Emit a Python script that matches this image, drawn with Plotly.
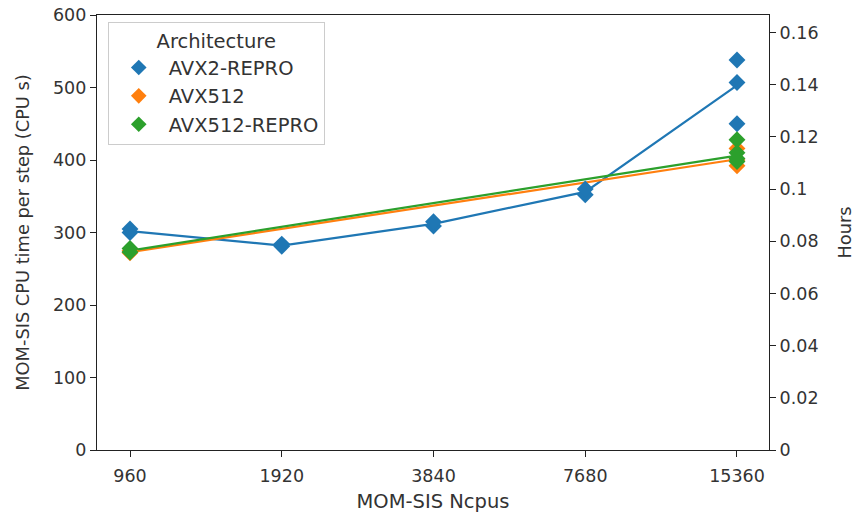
import plotly.graph_objects as go

ncpus = [960, 1920, 3840, 7680, 15360]
tick_labels = ["960", "1920", "3840", "7680", "15360"]

# individual samples (CPU s per step)
avx2_x = [960, 960, 1920, 1920, 3840, 3840, 7680, 7680, 15360, 15360, 15360]
avx2_y = [300, 305, 281, 284, 309, 315, 352, 360, 538, 507, 450]
avx512_x = [960, 960, 15360, 15360, 15360]
avx512_y = [272, 275, 416, 400, 392]
avx512r_x = [960, 960, 15360, 15360, 15360, 15360]
avx512r_y = [273, 278, 428, 410, 402, 398]

# mean lines
avx2_line_x = [960, 1920, 3840, 7680, 15360]
avx2_line_y = [302, 282, 312, 356, 503]
avx512_line_x = [960, 15360]
avx512_line_y = [273, 401]
avx512r_line_x = [960, 15360]
avx512r_line_y = [275, 406]

hours_ticks = [0, 0.02, 0.04, 0.06, 0.08, 0.1, 0.12, 0.14, 0.16]
hours_labels = ["0", "0.02", "0.04", "0.06", "0.08", "0.1", "0.12", "0.14", "0.16"]

colors = ["#1f77b4", "#ff7f0e", "#2ca02c"]
names = ["AVX2-REPRO", "AVX512", "AVX512-REPRO"]

TFS = 17.5   # tick labels
FS = 19.5    # x title / legend
YFS = 17.8   # y titles

fig = go.Figure()
for lx, ly, c in [(avx2_line_x, avx2_line_y, colors[0]),
                  (avx512_line_x, avx512_line_y, colors[1]),
                  (avx512r_line_x, avx512r_line_y, colors[2])]:
    fig.add_trace(go.Scatter(x=lx, y=ly, mode="lines", line=dict(color=c, width=2.2),
                             showlegend=False, hoverinfo="skip"))
for px, py, c, n in [(avx2_x, avx2_y, colors[0], names[0]),
                     (avx512_x, avx512_y, colors[1], names[1]),
                     (avx512r_x, avx512r_y, colors[2], names[2])]:
    fig.add_trace(go.Scatter(x=px, y=py, mode="markers", name=n,
                             marker=dict(symbol="diamond", size=13, color=c)))

# invisible trace for right axis
fig.add_trace(go.Scatter(x=[960], y=[0], yaxis="y2", mode="markers",
                         marker=dict(opacity=0), showlegend=False, hoverinfo="skip"))

axis_common = dict(showline=True, linecolor="#222", linewidth=1.2, ticks="outside",
                   ticklen=6, tickcolor="#222", showgrid=False, zeroline=False,
                   automargin=False, tickfont=dict(size=TFS, color="#333"))

fig.update_layout(
    width=860, height=513,
    margin=dict(l=97, r=91, t=15, b=63),
    plot_bgcolor="white", paper_bgcolor="white",
    font=dict(family="DejaVu Sans", size=FS, color="#333"),
    xaxis=dict(type="log", range=[2.9168, 4.2499], tickvals=ncpus, ticktext=tick_labels,
               title=dict(text="MOM-SIS Ncpus", standoff=13, font=dict(size=FS)),
               ticklabelstandoff=4, mirror=True, **axis_common),
    yaxis=dict(range=[0, 600], tickvals=[0, 100, 200, 300, 400, 500, 600],
               title=dict(text="MOM-SIS CPU time per step (CPU s)", standoff=18, font=dict(size=YFS)),
               **axis_common),
    yaxis2=dict(range=[0, 600 / 3600], overlaying="y", side="right",
                tickvals=hours_ticks, ticktext=hours_labels,
                title=dict(text="Hours", standoff=20, font=dict(size=YFS)),
                **axis_common),
    legend=dict(x=0.016, y=0.984, xanchor="left", yanchor="top",
                bordercolor="#cccccc", borderwidth=1, bgcolor="rgba(255,255,255,0.8)",
                title=dict(text="Architecture", side="top center", font=dict(size=FS)),
                font=dict(size=FS), itemsizing="constant", itemwidth=50),
    showlegend=True,
)

fig.write_html("out.html", config={"displayModeBar": False},
               post_script="document.body.style.margin='0px';")
